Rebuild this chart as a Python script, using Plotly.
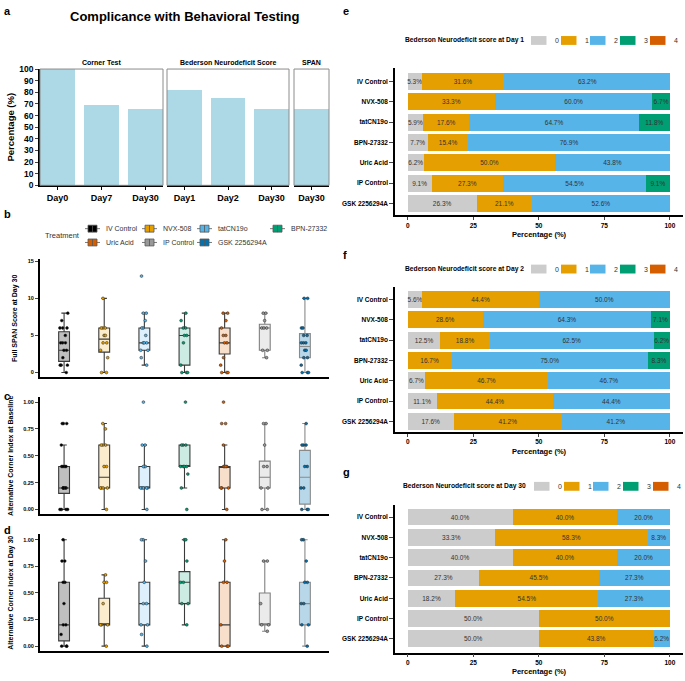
import plotly.graph_objects as go

W, H = 685, 681


def px(x):
    return x / W


def py(y):
    return 1 - y / H


FONT = "Liberation Sans, Arial, sans-serif"

# ---------------- Panel a: compliance ----------------
corner_days = ["Day0", "Day7", "Day30"]
corner_pct = [100.0, 69.2, 65.4]
bederson_days = ["Day1", "Day2", "Day30"]
bederson_pct = [81.6, 75.0, 65.4]
span_days = ["Day30"]
span_pct = [65.4]
facet_names = ["Corner Test", "Bederson Neurodeficit Score", "SPAN"]

# ---------------- Groups ----------------
groups = ["IV Control", "NVX-508", "tatCN19o", "BPN-27332", "Uric Acid", "IP Control", "GSK 2256294A"]
group_colors = ["#000000", "#E69F00", "#56B4E9", "#009E73", "#D55E00", "#999999", "#0072B2"]
box_fill = ["rgba(0,0,0,0.25)", "rgba(230,159,0,0.2)", "rgba(86,180,233,0.2)", "rgba(0,158,115,0.2)",
            "rgba(213,94,0,0.2)", "rgba(153,153,153,0.2)", "rgba(0,114,178,0.28)"]
box_line = ["#3a3a3a", "#3a3a3a", "#3a3a3a", "#3a3a3a", "#3a3a3a", "#808080", "#8a8a8a"]

# ---------------- Panel b: Full SPAN score at Day 30 ----------------
span_q1 = [1.5, 2.75, 3, 1, 2.5, 3, 2]
span_med = [3, 4.5, 4, 5, 4, 6, 3.5]
span_q3 = [5.5, 6, 6, 6, 6, 6.5, 5.25]
span_lo = [0, 0, 1, 0, 0, 2, 0]
span_hi = [8, 10, 8, 8, 8, 8, 10]
span_points = [
    [0, 1, 1, 1, 2, 3, 3, 4, 4, 4, 5, 6, 6, 6, 7, 8],
    [0, 0, 2, 3, 4, 4, 5, 5, 6, 6, 6, 10],
    [1, 2, 3, 3, 4, 4, 4, 5, 6, 6, 7, 8, 8, 13],
    [0, 0, 0, 1, 4, 5, 5, 6, 6, 7, 8],
    [0, 0, 0, 1, 2, 4, 4, 5, 5, 6, 7, 8, 8],
    [2, 3, 3, 6, 6, 6, 7, 8, 8],
    [0, 0, 0, 1, 2, 2, 3, 3, 4, 4, 4, 5, 5, 6, 6, 10, 10],
]

# ---------------- Panel c: Alternative corner index at baseline ----------------
base_q1 = [0.15, 0.2, 0.2, 0.4, 0.2, 0.2, 0.05]
base_med = [0.2, 0.3, 0.2, 0.4, 0.4, 0.3, 0.3]
base_q3 = [0.4, 0.6, 0.4, 0.6, 0.4, 0.45, 0.55]
base_lo = [0, 0, 0, 0.2, 0, 0, 0]
base_hi = [0.6, 0.8, 0.6, 0.6, 0.6, 0.8, 0.8]
base_points = [
    [0, 0, 0, 0, 0.2, 0.2, 0.2, 0.2, 0.2, 0.4, 0.4, 0.4, 0.4, 0.6, 0.8, 0.8, 0.8],
    [0, 0.2, 0.2, 0.2, 0.2, 0.4, 0.4, 0.6, 0.6, 0.6, 0.75, 0.8],
    [0, 0.2, 0.2, 0.2, 0.2, 0.2, 0.4, 0.4, 0.4, 0.6, 0.6, 1.0],
    [0, 0.2, 0.33, 0.4, 0.4, 0.4, 0.4, 0.6, 0.6, 0.6, 1.0],
    [0, 0.2, 0.2, 0.2, 0.4, 0.4, 0.4, 0.4, 0.6, 0.8, 0.8, 1.0],
    [0, 0, 0.2, 0.2, 0.4, 0.4, 0.6, 0.8, 0.8],
    [0, 0, 0, 0.2, 0.2, 0.4, 0.4, 0.6, 0.6, 0.6, 0.8],
]

# ---------------- Panel d: Alternative corner index at Day 30 ----------------
d30_q1 = [0.05, 0.2, 0.2, 0.4, 0.0, 0.2, 0.2]
d30_med = [0.2, 0.2, 0.4, 0.6, 0.2, 0.2, 0.4]
d30_q3 = [0.6, 0.45, 0.6, 0.7, 0.6, 0.5, 0.6]
d30_lo = [0, 0, 0, 0.2, 0, 0.14, 0]
d30_hi = [1.0, 0.67, 1.0, 1.0, 1.0, 0.8, 1.0]
d30_points = [
    [0, 0, 0, 0.11, 0.2, 0.2, 0.4, 0.6, 0.6, 0.8, 0.8, 1.0],
    [0, 0.2, 0.2, 0.2, 0.4, 0.6, 0.6, 0.67],
    [0, 0.11, 0.2, 0.2, 0.4, 0.4, 0.6, 0.8, 1.0, 1.0],
    [0.2, 0.4, 0.4, 0.6, 0.6, 0.8, 1.0, 1.0],
    [0, 0, 0, 0.2, 0.6, 0.6, 0.8, 1.0],
    [0.14, 0.2, 0.2, 0.4, 0.8, 0.8],
    [0, 0.2, 0.2, 0.4, 0.4, 0.6, 0.6, 0.8, 1.0, 1.0],
]

# ---------------- Panels e-g: Bederson score shares (%) ----------------
scores = ["0", "1", "2", "3", "4"]
score_colors = ["#CCCCCC", "#E69F00", "#56B4E9", "#009E73", "#D55E00"]

day1_s0 = [5.3, 0, 5.9, 7.7, 6.2, 9.1, 26.3]
day1_s1 = [31.6, 33.3, 17.6, 15.4, 50.0, 27.3, 21.1]
day1_s2 = [63.2, 60.0, 64.7, 76.9, 43.8, 54.5, 52.6]
day1_s3 = [0, 6.7, 11.8, 0, 0, 9.1, 0]
day1_s4 = [0, 0, 0, 0, 0, 0, 0]

day2_s0 = [5.6, 0, 12.5, 0, 6.7, 11.1, 17.6]
day2_s1 = [44.4, 28.6, 18.8, 16.7, 46.7, 44.4, 41.2]
day2_s2 = [50.0, 64.3, 62.5, 75.0, 46.7, 44.4, 41.2]
day2_s3 = [0, 7.1, 6.2, 8.3, 0, 0, 0]
day2_s4 = [0, 0, 0, 0, 0, 0, 0]

day30_s0 = [40.0, 33.3, 40.0, 27.3, 18.2, 50.0, 50.0]
day30_s1 = [40.0, 58.3, 40.0, 45.5, 54.5, 50.0, 43.8]
day30_s2 = [20.0, 8.3, 20.0, 27.3, 27.3, 0, 6.2]
day30_s3 = [0, 0, 0, 0, 0, 0, 0]
day30_s4 = [0, 0, 0, 0, 0, 0, 0]

fig = go.Figure()

# ---- panel a bars
for ax, cats, vals in [("x", corner_days, corner_pct), ("x2", bederson_days, bederson_pct),
                       ("x3", span_days, span_pct)]:
    fig.add_trace(go.Bar(x=cats, y=vals, xaxis=ax, yaxis="y", width=0.8,
                         marker=dict(color="#ADD8E6", line=dict(width=0)),
                         showlegend=False, hoverinfo="skip"))


# ---- box panels
def add_box_panel(n, q1, med, q3, lo, hi, pts):
    xa, ya = f"x{n}", f"y{n}"
    for i, g in enumerate(groups):
        fig.add_trace(go.Box(x=[g], q1=[q1[i]], median=[med[i]], q3=[q3[i]],
                             lowerfence=[lo[i]], upperfence=[hi[i]], orientation="v",
                             xaxis=xa, yaxis=ya, width=0.27, fillcolor=box_fill[i],
                             line=dict(color=box_line[i], width=1.1), boxpoints=False,
                             showlegend=False, hoverinfo="skip"))
        fig.add_trace(go.Box(x=[g] * len(pts[i]), y=pts[i], xaxis=xa, yaxis=ya, width=0.27,
                             boxpoints="all", jitter=0.9, pointpos=0,
                             fillcolor="rgba(0,0,0,0)", line=dict(color="rgba(0,0,0,0)", width=0),
                             marker=dict(color=group_colors[i], size=2.8,
                                         line=dict(color="#222222", width=0.5)),
                             showlegend=False, hoverinfo="skip"))


add_box_panel(4, span_q1, span_med, span_q3, span_lo, span_hi, span_points)
add_box_panel(5, base_q1, base_med, base_q3, base_lo, base_hi, base_points)
add_box_panel(6, d30_q1, d30_med, d30_q3, d30_lo, d30_hi, d30_points)


# ---- stacked bar panels
def add_stack(n, shares):
    for s, vals in enumerate(shares):
        fig.add_trace(go.Bar(y=groups, x=vals, orientation="h", xaxis=f"x{n}", yaxis=f"y{n}",
                             width=0.83, marker=dict(color=score_colors[s], line=dict(width=0)),
                             text=[f"{v:.1f}%" if v > 0 else "" for v in vals],
                             textposition="inside", insidetextanchor="middle", textangle=0,
                             textfont=dict(size=6.5, color="#333333", family=FONT),
                             showlegend=False, hoverinfo="skip"))


add_stack(7, [day1_s0, day1_s1, day1_s2, day1_s3, day1_s4])
add_stack(8, [day2_s0, day2_s1, day2_s2, day2_s3, day2_s4])
add_stack(9, [day30_s0, day30_s1, day30_s2, day30_s3, day30_s4])

shapes = []
annotations = []


def note(text, x, y, size, xanchor="center", color="black", xref="paper"):
    annotations.append(dict(text=text, xref=xref, yref="paper", x=x, y=y, xanchor=xanchor,
                            yanchor="middle", showarrow=False,
                            font=dict(size=size, family=FONT, color=color)))


# ---- layout: panel a
bold = "bold"
cat_ax = dict(type="category", showline=True, linecolor="black", linewidth=1.5, ticks="outside",
              ticklen=3, tickcolor="black", showgrid=False, zeroline=False,
              tickfont=dict(size=9, family=FONT, color="black", weight=bold), anchor="y", fixedrange=True)
layout = dict(
    width=W, height=H, margin=dict(l=0, r=0, t=0, b=0),
    paper_bgcolor="white", plot_bgcolor="white", barmode="stack", boxmode="overlay",
    showlegend=False, font=dict(family=FONT, color="black"),
    uniformtext=dict(minsize=6.5, mode="show"),
    xaxis=dict(cat_ax, domain=[px(40), px(163)], range=[-0.4, 2.4]),
    xaxis2=dict(cat_ax, domain=[px(167), px(289)], range=[-0.4, 2.4]),
    xaxis3=dict(cat_ax, domain=[px(294), px(329)], range=[-0.4, 0.4]),
    yaxis=dict(domain=[py(183), py(65)], anchor="x", range=[0, 100], dtick=10, showline=True,
               linecolor="black", linewidth=1.5, ticks="outside", ticklen=3, showgrid=False,
               zeroline=False, tickfont=dict(size=8.5, family=FONT, weight=bold),
               title=dict(text="Percentage (%)", standoff=3,
                          font=dict(size=9.5, family=FONT, weight=bold))),
)
for i, ax in enumerate(["x", "x2", "x3"]):
    shapes.append(dict(type="rect", xref=f"{ax} domain", yref="y domain", x0=0, x1=1, y0=0, y1=1,
                       line=dict(color="#8c8c8c", width=1), layer="above"))
    note(f"<b>{facet_names[i]}</b>", 0.5, py(58), 7, xref=f"{ax} domain")

note("<b>Complicance with Behavioral Testing</b>", px(185), py(12), 13)

# ---- box axes
box_titles = ["Full SPAN Score at Day 30", "Alternative Corner Index at Baseline",
              "Alternative Corner Index at Day 30"]
box_ydom = [(378, 258), (517, 398), (656, 537)]
box_yrange = [[-0.66, 15.27], [-0.046, 1.046], [-0.049, 1.053]]
box_ticks = [[0, 5, 10, 15], [0, 0.25, 0.5, 0.75, 1.0], [0, 0.25, 0.5, 0.75, 1.0]]
for k, n in enumerate([4, 5, 6]):
    layout[f"xaxis{n}"] = dict(domain=[px(40), px(329)], anchor=f"y{n}", type="category",
                               categoryorder="array", categoryarray=groups, range=[-0.6, 6.6],
                               showline=True, linecolor="black", linewidth=2, showticklabels=False,
                               ticks="", showgrid=False, zeroline=False, fixedrange=True)
    layout[f"yaxis{n}"] = dict(domain=[py(box_ydom[k][0]), py(box_ydom[k][1])], anchor=f"x{n}",
                               range=box_yrange[k], tickvals=box_ticks[k],
                               tickformat=".2f" if k > 0 else "d",
                               showline=True, linecolor="black", linewidth=2, ticks="outside",
                               ticklen=3, showgrid=False, zeroline=False,
                               tickfont=dict(size=5.5, family=FONT, weight=bold),
                               title=dict(text=box_titles[k], standoff=9,
                                          font=dict(size=7, family=FONT, weight=bold)))

# ---- stacked axes
st_ydom = [(213.3, 64.3), (433.3, 285.7), (657.3, 507.7)]
st_yrange = [[6.58, -0.65], [6.52, -0.64], [6.68, -0.58]]
for k, n in enumerate([7, 8, 9]):
    layout[f"xaxis{n}"] = dict(domain=[px(395), px(683)], anchor=f"y{n}", range=[-4.85, 105],
                               tickvals=[0, 25, 50, 75, 100], showline=True, linecolor="black",
                               linewidth=1.5, ticks="outside", ticklen=3, showgrid=False,
                               zeroline=False, tickfont=dict(size=6.5, family=FONT, weight=bold),
                               title=dict(text="Percentage (%)", standoff=4,
                                          font=dict(size=7.5, family=FONT, weight=bold)))
    layout[f"yaxis{n}"] = dict(domain=[py(st_ydom[k][0]), py(st_ydom[k][1])], anchor=f"x{n}",
                               type="category", categoryorder="array", categoryarray=groups,
                               range=st_yrange[k], showline=True, linecolor="black", linewidth=1.5,
                               ticks="outside", ticklen=4, showgrid=False, zeroline=False,
                               tickfont=dict(size=6.5, family=FONT, weight=bold))

# ---- stacked legends (drawn as keys + text)
leg_titles = ["Bederson Neurodeficit score at Day 1", "Bederson Neurodeficit score at Day 2",
              "Bederson Neurodeficit score at Day 30"]
leg_cy = [36, 268, 488.5]
leg_tx = [403, 403, 401]
leg_kx = [[531, 561, 590, 620, 650], [531, 561, 590, 620, 650], [534, 564, 593, 623, 653]]
for k in range(3):
    cy = leg_cy[k]
    note(f"<b>{leg_titles[k]}</b>", px(leg_tx[k]), py(cy), 6.7, xanchor="left")
    for s in range(5):
        kx = leg_kx[k][s]
        shapes.append(dict(type="rect", xref="paper", yref="paper", x0=px(kx), x1=px(kx + 15.5),
                           y0=py(cy + 4.5), y1=py(cy - 4.5), fillcolor=score_colors[s],
                           line=dict(width=0)))
        note(scores[s], px(kx + 21.5), py(cy), 7, xanchor="left", color="#333333")

# ---- treatment legend
note("Treatment", px(43), py(234), 7.5, xanchor="left", color="#333333")
col_x = [86, 143, 198, 271]
for i, g in enumerate(groups):
    r, c = divmod(i, 4)
    cy = 227 + r * 14
    kx = col_x[c]
    shapes.append(dict(type="line", xref="paper", yref="paper", x0=px(kx - 1), x1=px(kx + 14),
                       y0=py(cy), y1=py(cy), line=dict(color="#555555", width=0.8)))
    shapes.append(dict(type="rect", xref="paper", yref="paper", x0=px(kx + 2), x1=px(kx + 11),
                       y0=py(cy + 3.5), y1=py(cy - 3.5), fillcolor=group_colors[i],
                       line=dict(color="#555555", width=0.8)))
    shapes.append(dict(type="line", xref="paper", yref="paper", x0=px(kx + 6.5), x1=px(kx + 6.5),
                       y0=py(cy + 3.5), y1=py(cy - 3.5), line=dict(color="#555555", width=0.8)))
    note(g, px(kx + 18), py(cy), 7, xanchor="left", color="#333333")

# ---- panel labels
for lab, x, y in [("a", 2, 6), ("b", 2, 212), ("c", 2, 397), ("d", 2, 533),
                  ("e", 341, 6), ("f", 341, 254), ("g", 341, 474)]:
    note(f"<b>{lab}</b>", px(x), py(y), 11, xanchor="left")

layout["shapes"] = shapes
layout["annotations"] = annotations
fig.update_layout(**layout)

fig.write_html("out.html")
